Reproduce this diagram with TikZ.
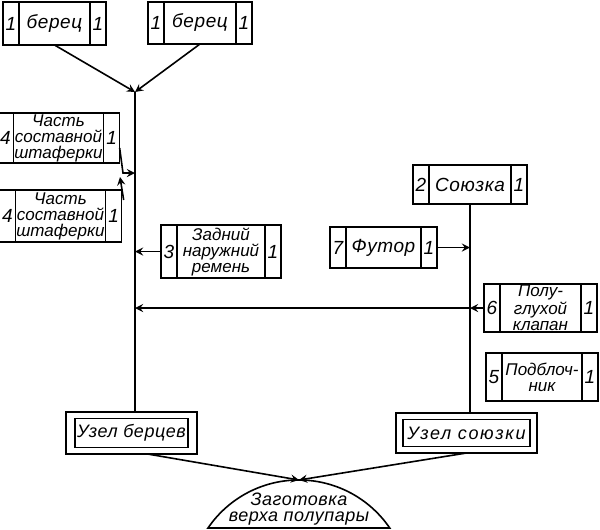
\documentclass[tikz,border=0pt]{standalone}
\usepackage{fontspec}
\setmainfont{Liberation Sans}
\usetikzlibrary{positioning}

\begin{document}
\begin{tikzpicture}[x=0.5pt, y=-0.5pt, line width=0.8pt, >=stealth,
  font=\itshape\fontsize{8.5}{8}\selectfont,
  part/.style={draw, align=center, inner sep=0.5pt, outer sep=0pt},
  single/.style={font=\itshape\fontsize{9.5}{10}\selectfont\addfontfeatures{LetterSpace=3}},
  cell/.style={draw, minimum width=8pt, inner sep=0pt, outer sep=0pt, font=\itshape\fontsize{9.5}{10}\selectfont},
  unit/.style={draw, outer sep=0pt, inner sep=0pt},
  spine/.style={line width=1pt}]

\useasboundingbox (0,0) rectangle (600,530);

\node [part, single, minimum width=35.5pt, minimum height=21.5pt] (b1) at (54.5,23.5) {берец};
\node [cell, minimum height=21.5pt, left=0pt of b1] (b1-n) {1};
\node [cell, minimum height=21.5pt, right=0pt of b1] (b1-q) {1};

\node [part, single, minimum width=36pt, minimum height=21pt] (b2) at (200,23) {берец};
\node [cell, minimum height=21pt, left=0pt of b2] (b2-n) {1};
\node [cell, minimum height=21pt, right=0pt of b2] (b2-q) {1};

\node [part, minimum width=40.5pt, minimum height=25pt] (sh1) at (58.5,138) {Часть\\составной\\штаферки};
\node [cell, minimum height=25pt, left=0pt of sh1] (sh1-n) {4};
\node [cell, minimum height=25pt, right=0pt of sh1] (sh1-q) {1};

\node [part, minimum width=40.5pt, minimum height=26pt] (sh2) at (60.5,216) {Часть\\составной\\штаферки};
\node [cell, minimum height=26pt, left=0pt of sh2] (sh2-n) {4};
\node [cell, minimum height=26pt, right=0pt of sh2] (sh2-q) {1};

\node [part, minimum width=44pt, minimum height=26.5pt] (rem) at (221,251.5) {Задний\\наружний\\ремень};
\node [cell, minimum height=26.5pt, left=0pt of rem] (rem-n) {3};
\node [cell, minimum height=26.5pt, right=0pt of rem] (rem-q) {1};

\node [part, single, minimum width=41pt, minimum height=19.5pt] (soy) at (470,184.5) {Союзка};
\node [cell, minimum height=19.5pt, left=0pt of soy] (soy-n) {2};
\node [cell, minimum height=19.5pt, right=0pt of soy] (soy-q) {1};

\node [part, single, minimum width=37.5pt, minimum height=20.5pt] (fut) at (383.5,247.5) {Футор};
\node [cell, minimum height=20.5pt, left=0pt of fut] (fut-n) {7};
\node [cell, minimum height=20.5pt, right=0pt of fut] (fut-q) {1};

\node [part, minimum width=40.5pt, minimum height=24pt] (kla) at (540.5,308) {Полу-\\глухой\\клапан};
\node [cell, minimum height=24pt, left=0pt of kla] (kla-n) {6};
\node [cell, minimum height=24pt, right=0pt of kla] (kla-q) {1};

\node [part, minimum width=40pt, minimum height=24pt] (pod) at (542,377) {Подблоч-\\ник};
\node [cell, minimum height=24pt, left=0pt of pod] (pod-n) {5};
\node [cell, minimum height=24pt, right=0pt of pod] (pod-q) {1};

\node [unit, minimum width=65.5pt, minimum height=21pt] (uzb) at (131.5,433) {};
\node [unit, minimum width=56.5pt, minimum height=14.5pt, font=\itshape\fontsize{9}{9}\selectfont\addfontfeatures{LetterSpace=3}] (uzb-in) at (uzb) {Узел берцев};
\node [unit, minimum width=70.5pt, minimum height=20pt] (uzs) at (466.5,433) {};
\node [unit, minimum width=63.5pt, minimum height=13.5pt, font=\itshape\fontsize{9}{9}\selectfont\addfontfeatures{LetterSpace=9}] (uzs-in) at (uzs) {Узел союзки};

\coordinate (zl) at (208,528);
\coordinate (zt) at (299,480);
\draw (zl) arc[start angle=214.3, end angle=325.7, radius=110] -- cycle;
\node [align=center, font=\itshape\fontsize{9}{8}\selectfont\addfontfeatures{LetterSpace=3}] (zag) at (299,509) {Заготовка\\верха полупары};

\coordinate (jb) at (135,92);
\coordinate (js) at (135,173);
\draw [spine] (jb) -- (jb |- uzb.north);
\draw [->] (b1.south) -- (jb);
\draw [->] (b2.south) -- (jb);
\draw [->] ([yshift=-5pt]sh1-q.east) -- ([xshift=-6pt]js) -- (js);
\draw [->] ([xshift=1pt,yshift=-5pt]sh2-q.north east) -- ([xshift=-7.5pt,yshift=-2pt]js);
\draw [->] (rem-n.west) -- (rem-n.west -| jb);

\draw [spine] (soy.south) -- (soy.south |- uzs.north);
\draw [->] (fut-q.east) -- (fut-q.east -| soy.south);
\draw [->] (kla-n.west) -- (kla-n.west -| soy.south);
\draw [->] (kla-n.west -| soy.south) -- (kla-n.west -| jb);

\draw [->] ([xshift=8pt]uzb.south) -- (zt);
\draw [->] (uzs.south) -- (zt);
\end{tikzpicture}
\end{document}
